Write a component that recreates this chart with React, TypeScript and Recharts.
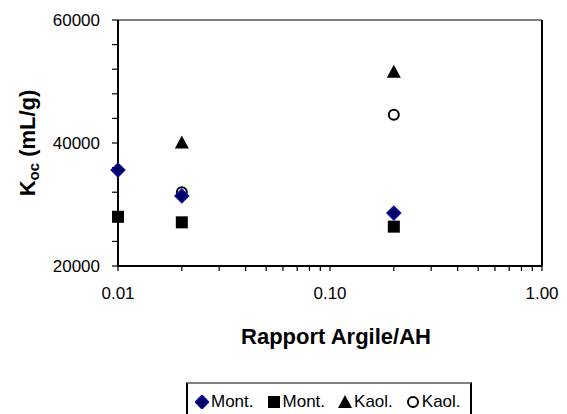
import React from "react"
import { ScatterChart, Scatter, XAxis, YAxis, Label } from "recharts"

// K_oc vs clay/humic-acid ratio
const montDiamondX = [0.01, 0.02, 0.2]
const montDiamondY = [35600, 31400, 28600]
const montSquareX = [0.01, 0.02, 0.2]
const montSquareY = [28000, 27100, 26400]
const kaolTriangleX = [0.02, 0.2]
const kaolTriangleY = [40100, 51600]
const kaolCircleX = [0.02, 0.2]
const kaolCircleY = [32000, 44600]

const xTicks = [0.01, 0.02, 0.03, 0.04, 0.05, 0.06, 0.07, 0.08, 0.09, 0.1, 0.2, 0.3, 0.4, 0.5, 0.6, 0.7, 0.8, 0.9, 1]
const xMajor = [0.01, 0.1, 1]
const yTicks = [20000, 24000, 28000, 32000, 36000, 40000, 44000, 48000, 52000, 56000, 60000]
const yMajor = [20000, 40000, 60000]

const legendLabels = ["Mont.", "Mont.", "Kaol.", "Kaol."]

const toPoints = (xs: number[], ys: number[]) => xs.map((x, i) => ({ x, y: ys[i] }))

const FONT = "'Liberation Sans', Arial, sans-serif"

const Diamond = ({ cx, cy }: any) => (
  <path d={`M${cx},${cy - 7} L${cx + 7},${cy} L${cx},${cy + 7} L${cx - 7},${cy} Z`} fill="#000066" stroke="#1010a8" strokeWidth={1.2} />
)
const Square = ({ cx, cy }: any) => <rect x={cx - 6} y={cy - 6} width={12} height={12} fill="#000" />
const Triangle = ({ cx, cy }: any) => (
  <path d={`M${cx},${cy - 7} L${cx + 7},${cy + 6} L${cx - 7},${cy + 6} Z`} fill="#000" />
)
const Circle = ({ cx, cy }: any) => <circle cx={cx} cy={cy} r={5} fill="#fff" stroke="#000" strokeWidth={2} />

const legendShapes = [
  <path d="M7,0 L14,7 L7,14 L0,7 Z" fill="#000066" stroke="#1010a8" strokeWidth={1.2} />,
  <rect x={1} y={1} width={12} height={12} fill="#000" />,
  <path d="M7,0 L14,13 L0,13 Z" fill="#000" />,
  <circle cx={7} cy={7} r={5} fill="#fff" stroke="#000" strokeWidth={2} />,
]

function XTitle({ viewBox }: any) {
  return (
    <text x={336} y={viewBox.y + 78} textAnchor="middle" fontFamily={FONT} fontSize={22} fontWeight="bold" fill="#000">
      Rapport Argile/AH
    </text>
  )
}

function YTitle() {
  return (
    <text x={27} y={143} transform="rotate(-90, 27, 143)" textAnchor="middle" dominantBaseline="central" fontFamily={FONT} fontSize={22} fontWeight="bold" fill="#000">
      K<tspan fontSize={15} dy={6}>oc</tspan>
      <tspan dy={-6}> (mL/g)</tspan>
    </text>
  )
}

export default function App() {
  return (
    <div style={{ position: "absolute", left: 0, top: 0, width: 567, height: 414, background: "#fff" }}>
      <ScatterChart width={567} height={414} margin={{ top: 20, right: 25, bottom: 0, left: 0 }}>
        <XAxis
          dataKey="x"
          type="number"
          scale="log"
          domain={[0.01, 1]}
          ticks={xTicks}
          height={148}
          tickSize={5}
          tickMargin={16}
          interval={0}
          tickFormatter={(v: number) => (xMajor.some((m) => Math.abs(m - v) < 1e-9) ? v.toFixed(2) : "")}
          tick={{ fill: "#000", fontSize: 17, fontFamily: FONT }}
          axisLine={{ stroke: "#000", strokeWidth: 2 }}
          tickLine={{ stroke: "#000", strokeWidth: 1.2 }}
        >
          <Label content={<XTitle />} />
        </XAxis>
        <YAxis
          dataKey="y"
          type="number"
          domain={[20000, 60000]}
          ticks={yTicks}
          interval={0}
          width={118}
          tickSize={6}
          tickMargin={12}
          tickFormatter={(v: number) => (yMajor.includes(v) ? String(v) : "")}
          tick={{ fill: "#000", fontSize: 17, fontFamily: FONT }}
          axisLine={{ stroke: "#000", strokeWidth: 2 }}
          tickLine={{ stroke: "#000", strokeWidth: 1.2 }}
        >
          <Label content={<YTitle />} />
        </YAxis>
        {/* plot frame: grey top, black right */}
        <line x1={118} y1={20} x2={542} y2={20} stroke="#808080" strokeWidth={2} />
        <line x1={542} y1={20} x2={542} y2={266} stroke="#000" strokeWidth={2} />
        <Scatter data={toPoints(montSquareX, montSquareY)} shape={<Square />} isAnimationActive={false} />
        <Scatter data={toPoints(kaolTriangleX, kaolTriangleY)} shape={<Triangle />} isAnimationActive={false} />
        <Scatter data={toPoints(kaolCircleX, kaolCircleY)} shape={<Circle />} isAnimationActive={false} />
        <Scatter data={toPoints(montDiamondX, montDiamondY)} shape={<Diamond />} isAnimationActive={false} />
      </ScatterChart>
      <div
        style={{
          position: "absolute",
          left: 186,
          top: 382,
          width: 286,
          height: 40,
          borderTop: "2px solid #808080",
          borderLeft: "2px solid #000",
          borderRight: "2px solid #000",
          display: "flex",
          alignItems: "flex-start",
          paddingTop: 8,
          paddingLeft: 7,
          boxSizing: "border-box",
          fontFamily: FONT,
          fontSize: 17,
          color: "#000",
        }}
      >
        {legendLabels.map((l, i) => (
          <span key={i} style={{ display: "flex", alignItems: "center", marginRight: i < 3 ? 13 : 0 }}>
            <svg width={14} height={14} style={{ marginRight: 2 }}>
              {legendShapes[i]}
            </svg>
            {l}
          </span>
        ))}
      </div>
    </div>
  )
}
